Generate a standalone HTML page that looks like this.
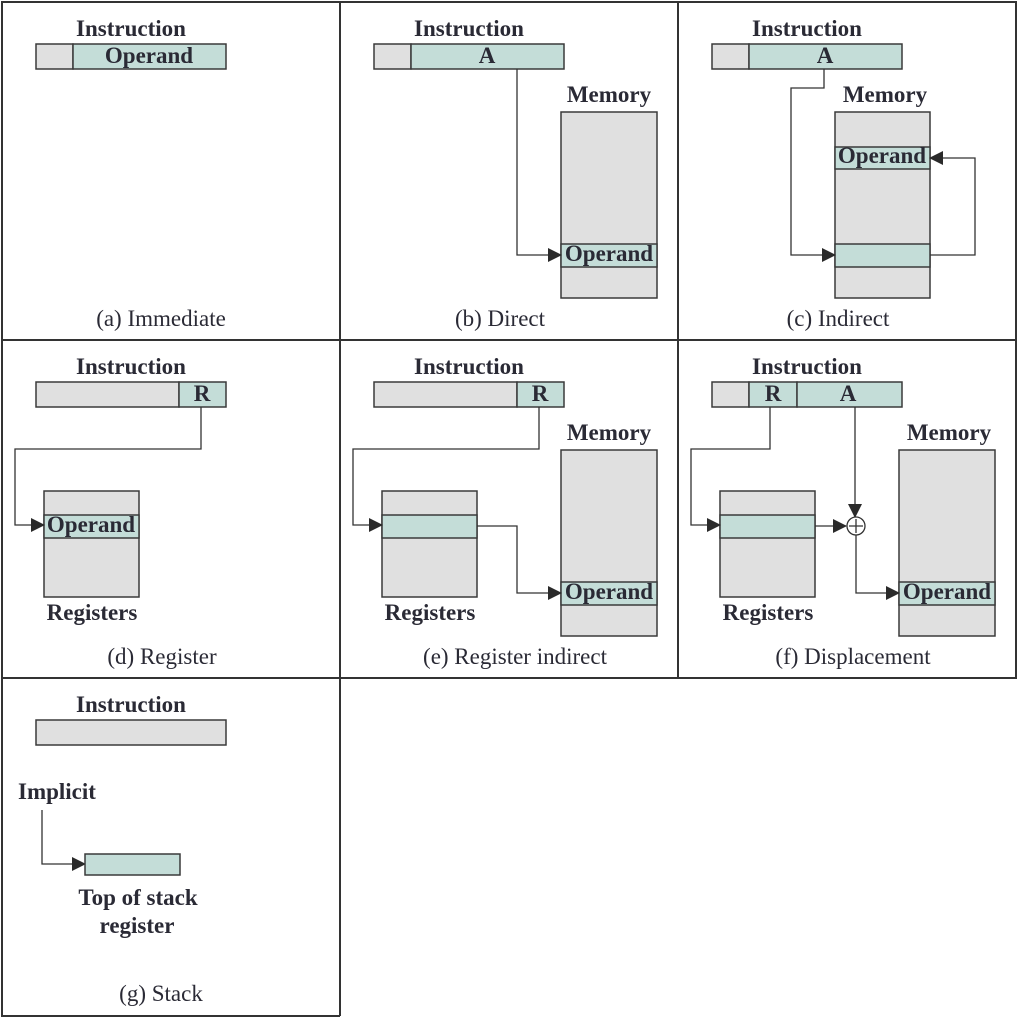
<!DOCTYPE html>
<html><head><meta charset="utf-8"><style>
html,body{margin:0;padding:0;background:#fff;}
svg{display:block;}
.b{font-family:"Liberation Serif",serif;font-weight:bold;font-size:23px;fill:#2a2a35;}
.c{font-family:"Liberation Serif",serif;font-size:23px;fill:#2a2a35;}
.g{fill:#e0e0e0;stroke:#3a3a3a;stroke-width:1.5;}
.t{fill:#c4ddd8;stroke:#3a3a3a;stroke-width:1.5;}
.l{fill:none;stroke:#333;stroke-width:1.3;}
</style></head><body>
<svg width="1018" height="1018" viewBox="0 0 1018 1018" xmlns="http://www.w3.org/2000/svg">
<defs><marker id="ar" markerWidth="14" markerHeight="14" refX="13" refY="7" orient="auto" markerUnits="userSpaceOnUse"><path d="M0,0 L14,7 L0,14 Z" fill="#2a2a2a"/></marker></defs>
<g fill="none" stroke="#333" stroke-width="2">
<path d="M2,2 H1016 V678 H2 Z"/>
<path d="M340,2 V1016 M678,2 V678 M2,340 H1016 M2,678 V1016 H340"/>
</g>
<!-- (a) -->
<g>
<text class="b" x="131" y="36" text-anchor="middle">Instruction</text>
<rect class="g" x="36" y="44" width="37" height="25"/><rect class="t" x="73" y="44" width="153" height="25"/>
<text class="b" x="149" y="63" text-anchor="middle">Operand</text>
<text class="c" x="161" y="326" text-anchor="middle">(a) Immediate</text>
</g>
<!-- (b) -->
<g transform="translate(338,0)">
<text class="b" x="131" y="36" text-anchor="middle">Instruction</text>
<rect class="g" x="36" y="44" width="37" height="25"/><rect class="t" x="73" y="44" width="153" height="25"/>
<text class="b" x="149" y="63" text-anchor="middle">A</text>
<text class="b" x="271" y="102" text-anchor="middle">Memory</text>
<rect class="g" x="223" y="112" width="96" height="186"/><rect class="t" x="223" y="244" width="96" height="23"/>
<text class="b" x="271" y="261" text-anchor="middle">Operand</text>
<path class="l" d="M179,69 V255 H223" marker-end="url(#ar)"/>
<text class="c" x="162" y="326" text-anchor="middle">(b) Direct</text>
</g>
<!-- (c) -->
<g transform="translate(676,0)">
<text class="b" x="131" y="36" text-anchor="middle">Instruction</text>
<rect class="g" x="36" y="44" width="37" height="25"/><rect class="t" x="73" y="44" width="153" height="25"/>
<text class="b" x="149" y="63" text-anchor="middle">A</text>
<text class="b" x="209" y="102" text-anchor="middle">Memory</text>
<rect class="g" x="159" y="112" width="95" height="186"/>
<rect class="t" x="159" y="147" width="95" height="22"/><rect class="t" x="159" y="244" width="95" height="23"/>
<text class="b" x="206" y="163" text-anchor="middle">Operand</text>
<path class="l" d="M148,69 V88 H115 V255 H159" marker-end="url(#ar)"/>
<path class="l" d="M254,255 H299 V158 H254" marker-end="url(#ar)"/>
<text class="c" x="162" y="326" text-anchor="middle">(c) Indirect</text>
</g>
<!-- (d) -->
<g transform="translate(0,338)">
<text class="b" x="131" y="36" text-anchor="middle">Instruction</text>
<rect class="g" x="36" y="44" width="143" height="25"/><rect class="t" x="179" y="44" width="47" height="25"/>
<text class="b" x="202" y="63" text-anchor="middle">R</text>
<rect class="g" x="44" y="153" width="95" height="106"/><rect class="t" x="44" y="177" width="95" height="23"/>
<text class="b" x="91" y="194" text-anchor="middle">Operand</text>
<text class="b" x="92" y="282" text-anchor="middle">Registers</text>
<path class="l" d="M201,69 V111 H15 V187 H44" marker-end="url(#ar)"/>
<text class="c" x="162" y="326" text-anchor="middle">(d) Register</text>
</g>
<!-- (e) -->
<g transform="translate(338,338)">
<text class="b" x="131" y="36" text-anchor="middle">Instruction</text>
<rect class="g" x="36" y="44" width="143" height="25"/><rect class="t" x="179" y="44" width="47" height="25"/>
<text class="b" x="202" y="63" text-anchor="middle">R</text>
<rect class="g" x="44" y="153" width="95" height="106"/><rect class="t" x="44" y="177" width="95" height="23"/>
<text class="b" x="92" y="282" text-anchor="middle">Registers</text>
<text class="b" x="271" y="102" text-anchor="middle">Memory</text>
<rect class="g" x="223" y="112" width="96" height="186"/><rect class="t" x="223" y="244" width="96" height="23"/>
<text class="b" x="271" y="261" text-anchor="middle">Operand</text>
<path class="l" d="M201,69 V111 H15 V187 H44" marker-end="url(#ar)"/>
<path class="l" d="M139,188 H179 V255 H223" marker-end="url(#ar)"/>
<text class="c" x="177" y="326" text-anchor="middle">(e) Register indirect</text>
</g>
<!-- (f) -->
<g transform="translate(676,338)">
<text class="b" x="131" y="36" text-anchor="middle">Instruction</text>
<rect class="g" x="36" y="44" width="37" height="25"/><rect class="t" x="73" y="44" width="48" height="25"/><rect class="t" x="121" y="44" width="105" height="25"/>
<text class="b" x="97" y="63" text-anchor="middle">R</text>
<text class="b" x="172" y="63" text-anchor="middle">A</text>
<rect class="g" x="44" y="153" width="95" height="106"/><rect class="t" x="44" y="177" width="95" height="23"/>
<text class="b" x="92" y="282" text-anchor="middle">Registers</text>
<text class="b" x="273" y="102" text-anchor="middle">Memory</text>
<rect class="g" x="223" y="112" width="96" height="186"/><rect class="t" x="223" y="244" width="96" height="23"/>
<text class="b" x="271" y="261" text-anchor="middle">Operand</text>
<path class="l" d="M94,69 V111 H15 V187 H44" marker-end="url(#ar)"/>
<path class="l" d="M139,188 H170" marker-end="url(#ar)"/>
<path class="l" d="M179,69 V179" marker-end="url(#ar)"/>
<circle cx="180" cy="188" r="9" fill="#fff" stroke="#333" stroke-width="1.3"/>
<path class="l" d="M180,181 V195 M173,188 H187"/>
<path class="l" d="M180,197 V255 H223" marker-end="url(#ar)"/>
<text class="c" x="177" y="326" text-anchor="middle">(f) Displacement</text>
</g>
<!-- (g) -->
<g transform="translate(0,676)">
<text class="b" x="131" y="36" text-anchor="middle">Instruction</text>
<rect class="g" x="36" y="44" width="190" height="25"/>
<text class="b" x="18" y="123">Implicit</text>
<path class="l" d="M42,134 V188 H85" marker-end="url(#ar)"/>
<rect class="t" x="85" y="178" width="95" height="21"/>
<text class="b" x="138" y="229" text-anchor="middle">Top of stack</text>
<text class="b" x="137" y="257" text-anchor="middle">register</text>
<text class="c" x="161" y="325" text-anchor="middle">(g) Stack</text>
</g>
</svg>
</body></html>
